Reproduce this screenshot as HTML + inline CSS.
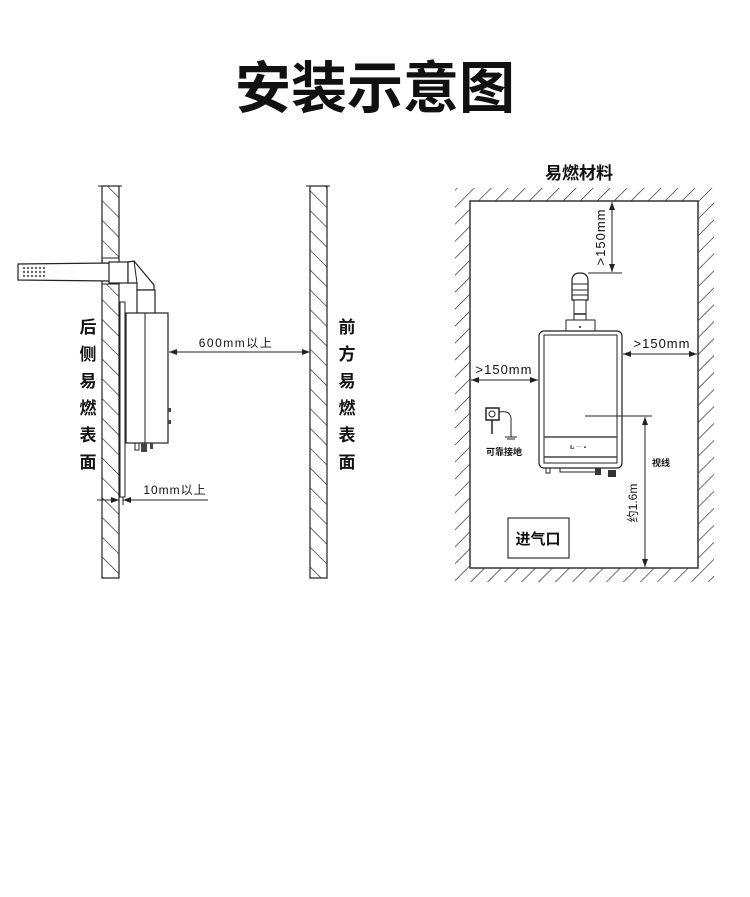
<!DOCTYPE html>
<html><head><meta charset="utf-8"><style>
html,body{margin:0;padding:0;background:#fff;}
svg{display:block;}
text{font-family:"Liberation Sans","Noto Sans CJK SC",sans-serif;fill:#111;}
</style></head><body>
<svg width="750" height="897" viewBox="0 0 750 897" xmlns="http://www.w3.org/2000/svg">
<defs>
<pattern id="hb" width="14" height="14" patternUnits="userSpaceOnUse" patternTransform="rotate(-45)">
<line x1="0" y1="0" x2="0" y2="14" stroke="#222" stroke-width="1.3"/></pattern>
<pattern id="hf" width="12" height="12" patternUnits="userSpaceOnUse" patternTransform="rotate(45)">
<line x1="0" y1="0" x2="0" y2="12" stroke="#222" stroke-width="1.3"/></pattern>
<marker id="ar" markerWidth="8" markerHeight="6" refX="8" refY="3" orient="auto-start-reverse" markerUnits="userSpaceOnUse">
<path d="M0,0 L8,3 L0,6 z" fill="#222"/></marker>
</defs>
<text x="375" y="108" font-size="56" font-weight="bold" text-anchor="middle">安装示意图</text>

<!-- LEFT DIAGRAM -->
<rect x="102" y="186" width="17" height="392" fill="url(#hb)" stroke="#222" stroke-width="1.2"/>
<rect x="310" y="186" width="17" height="392" fill="url(#hb)" stroke="#222" stroke-width="1.2"/>
<line x1="98" y1="186" x2="122" y2="186" stroke="#222"/>
<line x1="306" y1="186" x2="330" y2="186" stroke="#222"/>
<rect x="103" y="258" width="15" height="26" fill="#fff"/>
<line x1="102" y1="258" x2="119" y2="258" stroke="#222"/>
<line x1="102" y1="284" x2="119" y2="284" stroke="#222"/>
<path d="M18,264 L110,263 L110,281 L18,280 Z" fill="#fff" stroke="#222" stroke-width="1.2"/>
<g fill="#666">
<circle cx="24" cy="268" r="1.2"/><circle cx="28" cy="268" r="1.2"/><circle cx="32" cy="268" r="1.2"/><circle cx="36" cy="268" r="1.2"/><circle cx="40" cy="268" r="1.2"/><circle cx="44" cy="268" r="1.2"/>
<circle cx="24" cy="272" r="1.2"/><circle cx="28" cy="272" r="1.2"/><circle cx="32" cy="272" r="1.2"/><circle cx="36" cy="272" r="1.2"/><circle cx="40" cy="272" r="1.2"/><circle cx="44" cy="272" r="1.2"/>
<circle cx="24" cy="276" r="1.2"/><circle cx="28" cy="276" r="1.2"/><circle cx="32" cy="276" r="1.2"/><circle cx="36" cy="276" r="1.2"/><circle cx="40" cy="276" r="1.2"/><circle cx="44" cy="276" r="1.2"/>
</g>
<rect x="109" y="262" width="19" height="21" fill="#fff" stroke="#222" stroke-width="1.2"/>
<path d="M128,262 L134,261 L154,285 L154,290 L137,290 L137,283 L128,283 Z" fill="#fff" stroke="#222" stroke-width="1.2"/>
<line x1="134" y1="261" x2="137" y2="283" stroke="#222"/>
<rect x="137" y="290" width="18" height="24" fill="#fff" stroke="#222" stroke-width="1.2"/>
<rect x="120" y="302" width="5" height="195" fill="#fff" stroke="#222"/>
<rect x="126" y="313" width="42" height="130" fill="#fff" stroke="#222" stroke-width="1.2"/>
<line x1="145" y1="313" x2="145" y2="443" stroke="#222"/>
<rect x="135" y="443" width="4" height="7" fill="none" stroke="#222"/>
<rect x="141" y="443" width="6" height="9" fill="#444"/>
<rect x="150" y="443" width="3" height="6" fill="#444"/>
<rect x="168" y="408" width="3" height="4" fill="#444"/><rect x="168" y="420" width="3" height="4" fill="#444"/>
<line x1="169" y1="352" x2="310" y2="352" stroke="#222" marker-start="url(#ar)" marker-end="url(#ar)"/>
<text x="236" y="347" font-size="12" text-anchor="middle" letter-spacing="1.5">600mm以上</text>
<line x1="123" y1="497" x2="123" y2="505" stroke="#222"/>
<line x1="97" y1="500" x2="119" y2="500" stroke="#222" marker-end="url(#ar)"/>
<line x1="123" y1="500" x2="208" y2="500" stroke="#222" marker-start="url(#ar)"/>
<text x="175" y="494" font-size="12" text-anchor="middle" letter-spacing="1">10mm以上</text>
<g font-size="17" font-weight="bold" text-anchor="middle">
<text x="88" y="333">后</text><text x="88" y="360">侧</text><text x="88" y="387">易</text><text x="88" y="414">燃</text><text x="88" y="441">表</text><text x="88" y="468">面</text>
<text x="347" y="333">前</text><text x="347" y="360">方</text><text x="347" y="387">易</text><text x="347" y="414">燃</text><text x="347" y="441">表</text><text x="347" y="468">面</text>
</g>

<!-- RIGHT DIAGRAM -->
<text x="579" y="179" font-size="17" font-weight="bold" text-anchor="middle">易燃材料</text>
<path d="M455,188 L714,188 L714,582 L455,582 Z M470,201 L470,568 L698,568 L698,201 Z" fill="url(#hf)" fill-rule="evenodd"/>
<rect x="470" y="201" width="228" height="367" fill="#fff" stroke="#333" stroke-width="1.5"/>
<path d="M572,300 L572,281 Q572,273 580,273 Q588,273 588,281 L588,300 Z" fill="#fff" stroke="#222" stroke-width="1.2"/>
<line x1="572" y1="284" x2="588" y2="284" stroke="#222"/><line x1="572" y1="290" x2="588" y2="290" stroke="#222"/><line x1="572" y1="295" x2="588" y2="295" stroke="#222"/>
<rect x="574" y="300" width="12" height="20" fill="#fff" stroke="#222"/>
<line x1="574" y1="314" x2="586" y2="314" stroke="#222" stroke-width="1.5"/>
<rect x="566" y="320" width="29" height="11" fill="#fff" stroke="#222"/>
<circle cx="580" cy="327" r="1" fill="#222"/>
<rect x="539" y="331" width="83" height="137" rx="5" fill="#fff" stroke="#222" stroke-width="1.2"/>
<rect x="544" y="335" width="73" height="128" fill="none" stroke="#222"/>
<line x1="544" y1="437" x2="617" y2="437" stroke="#444" stroke-width="1.5"/>
<line x1="544" y1="457" x2="617" y2="457" stroke="#444" stroke-width="1.5"/>
<text x="570" y="449" font-size="6" fill="#555">ఓ ⋯ ▪</text>
<rect x="546" y="468" width="4" height="5" fill="none" stroke="#222"/>
<rect x="560" y="468" width="40" height="4" fill="none" stroke="#222"/>
<rect x="595" y="468" width="6" height="7" fill="#333"/><rect x="608" y="470" width="8" height="7" fill="#333"/>
<line x1="612" y1="202" x2="612" y2="272" stroke="#222" marker-start="url(#ar)" marker-end="url(#ar)"/>
<line x1="588" y1="273" x2="622" y2="273" stroke="#222"/>
<text transform="translate(605,237) rotate(-90)" font-size="13" text-anchor="middle" letter-spacing="1">&gt;150mm</text>
<line x1="623" y1="354" x2="697" y2="354" stroke="#222" marker-start="url(#ar)" marker-end="url(#ar)"/>
<text x="662" y="348" font-size="13" text-anchor="middle" letter-spacing="1">&gt;150mm</text>
<line x1="471" y1="380" x2="538" y2="380" stroke="#222" marker-start="url(#ar)" marker-end="url(#ar)"/>
<text x="504" y="374" font-size="13" text-anchor="middle" letter-spacing="1">&gt;150mm</text>
<line x1="585" y1="416" x2="652" y2="416" stroke="#222"/>
<line x1="645" y1="417" x2="645" y2="567" stroke="#222" marker-start="url(#ar)" marker-end="url(#ar)"/>
<text transform="translate(637,503) rotate(-90)" font-size="12" text-anchor="middle">约1.6m</text>
<text x="661" y="466" font-size="9" font-weight="bold" text-anchor="middle">视线</text>
<rect x="486" y="408" width="13" height="12" fill="#fff" stroke="#222" stroke-width="1.5"/>
<circle cx="492" cy="414" r="3" fill="none" stroke="#222"/>
<line x1="492" y1="420" x2="492" y2="434" stroke="#222" stroke-width="1.5"/>
<path d="M499,412 Q510,410 511,418 L511,437" fill="none" stroke="#222"/>
<line x1="505" y1="437" x2="517" y2="437" stroke="#222"/><line x1="507" y1="439" x2="515" y2="439" stroke="#222"/>
<text x="504" y="455" font-size="9" font-weight="bold" text-anchor="middle">可靠接地</text>
<rect x="508" y="518" width="61" height="40" fill="#fff" stroke="#333" stroke-width="1.2"/>
<text x="538" y="544" font-size="15" font-weight="bold" text-anchor="middle">进气口</text>
</svg>
</body></html>
